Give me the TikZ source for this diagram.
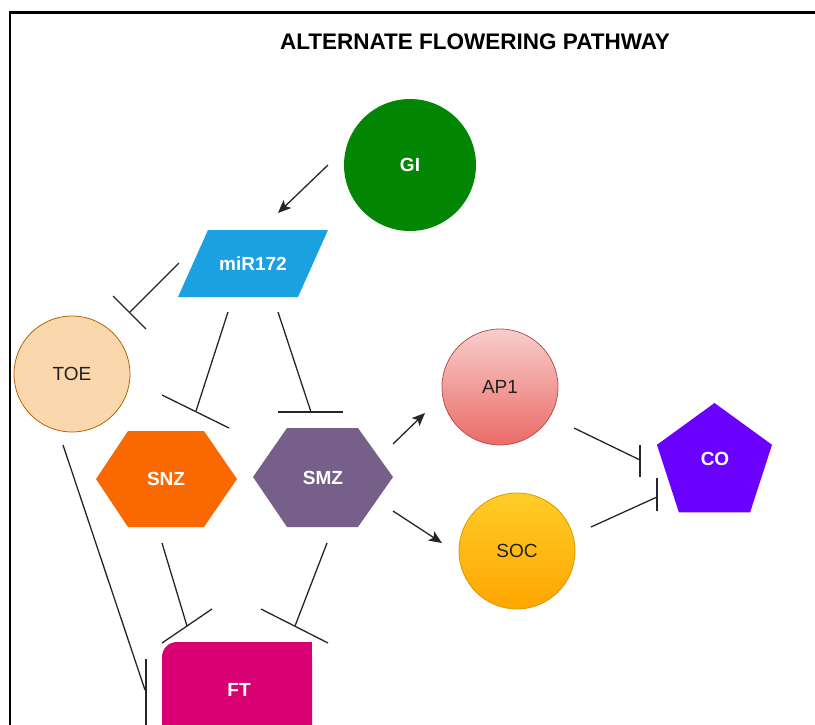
\documentclass[tikz,border=0pt]{standalone}
\usepackage{fontspec}
\setmainfont{Liberation Sans}
\usetikzlibrary{arrows.meta,shapes.geometric}
\definecolor{gicol}{HTML}{038603}
\definecolor{mircol}{HTML}{1BA1E2}
\definecolor{toefill}{HTML}{FAD7AC}
\definecolor{toedraw}{HTML}{B46504}
\definecolor{snzcol}{HTML}{FA6800}
\definecolor{smzcol}{HTML}{76608A}
\definecolor{aptop}{HTML}{F8CECC}
\definecolor{apbot}{HTML}{EA6B66}
\definecolor{apdraw}{HTML}{B85450}
\definecolor{soctop}{HTML}{FFCD28}
\definecolor{socbot}{HTML}{FFA500}
\definecolor{socdraw}{HTML}{D79B00}
\definecolor{cocol}{HTML}{6A00FF}
\definecolor{ftcol}{HTML}{D80073}
\definecolor{txtdark}{HTML}{222222}
\begin{document}
\begin{tikzpicture}[x=1pt,y=-1pt,
  lbl/.style={font=\fontsize{19}{19}\selectfont, text=txtdark, inner sep=0pt},
  wlbl/.style={font=\fontsize{19}{19}\selectfont\bfseries, text=white, inner sep=0pt},
  circ/.style={circle, inner sep=0pt, minimum size=#1, line width=0.8pt},
  conn/.style={line width=1.3pt, draw=black!85},
  act/.style={conn, -{Stealth[length=13pt,width=11pt,inset=3pt]}},
  barline/.style={line width=1.3pt, draw=black!85}]
\useasboundingbox (0,0) rectangle (815,724);
\clip (0,0) rectangle (815,724);

% frame
\draw[line width=2.2pt] (10,760) -- (10,12.5) -- (840,12.5);

% title
\node[font=\fontsize{22.5}{24}\selectfont\bfseries, anchor=base, inner sep=0pt] (title) at (475,49) {ALTERNATE FLOWERING PATHWAY};

% GI
\node[circ=132pt, fill=gicol, wlbl] (GI) at (410,165) {GI};

% miR172
\fill[mircol] (208,230) -- (328,230) -- (298,297) -- (178,297) -- cycle;
\node[wlbl] (MIR) at (253,264) {miR172};

% TOE
\node[circ=116pt, fill=toefill, draw=toedraw, lbl] (TOE) at (72,374) {TOE};

% SNZ
\fill[snzcol] (96,479) -- (128,431) -- (204,431) -- (237,479) -- (204,527) -- (128,527) -- cycle;
\node[wlbl] (SNZ) at (166,479) {SNZ};

% SMZ
\fill[smzcol] (253,477) -- (287,428) -- (358,428) -- (393,477) -- (358,527) -- (287,527) -- cycle;
\node[wlbl] (SMZ) at (323,478) {SMZ};

% AP1
\node[circ=116pt, top color=aptop, bottom color=apbot, draw=apdraw, lbl] (AP1) at (500,387) {AP1};

% SOC
\node[circ=116pt, top color=soctop, bottom color=socbot, draw=socdraw, lbl] (SOC) at (517,551) {SOC};

% CO
\node[regular polygon, regular polygon sides=5, minimum size=121pt, inner sep=0pt, fill=cocol] (CO) at (714.5,463.5) {};
\node[wlbl] (COlbl) at (715,459) {CO};

% FT
\fill[ftcol, rounded corners=15pt] (162,642) rectangle (312,770);
\fill[ftcol] (280,642) rectangle (312,700);
\node[wlbl] (FT) at (239,690) {FT};

% connector end points
\coordinate (a1s) at (328,165); \coordinate (a1e) at (278,213);
\coordinate (a2s) at (393,444); \coordinate (a2e) at (425,413);
\coordinate (a3s) at (393,511); \coordinate (a3e) at (442,543);

\coordinate (i1s) at (179,263); \coordinate (i1e) at (130,312);
\coordinate (i1a) at (113,296); \coordinate (i1b) at (146,329);
\coordinate (i2s) at (228,312); \coordinate (i2e) at (196,411);
\coordinate (i2a) at (162,395); \coordinate (i2b) at (229,428);
\coordinate (i3s) at (278,312); \coordinate (i3e) at (311,412);
\coordinate (i3a) at (278,412); \coordinate (i3b) at (343,412);
\coordinate (i4s) at (574,428); \coordinate (i4e) at (640,460);
\coordinate (i4a) at (640,445); \coordinate (i4b) at (640,477);
\coordinate (i5s) at (591,527); \coordinate (i5e) at (657,497);
\coordinate (i5a) at (657,478); \coordinate (i5b) at (657,511);
\coordinate (i6s) at (162,543); \coordinate (i6e) at (187,626);
\coordinate (i6a) at (162,643); \coordinate (i6b) at (212,609);
\coordinate (i7s) at (327,543); \coordinate (i7e) at (295,626);
\coordinate (i7a) at (261,609); \coordinate (i7b) at (328,643);
\coordinate (i8s) at (63,445); \coordinate (i8e) at (145,690);
\coordinate (i8a) at (146,659); \coordinate (i8b) at (146,760);

% activations
\draw[act] (a1s) -- (a1e);
\draw[act] (a2s) -- (a2e);
\draw[act] (a3s) -- (a3e);

% inhibitions
\foreach \i in {1,...,8} {
  \draw[conn] (i\i s) -- (i\i e);
  \draw[barline] (i\i a) -- (i\i b);
}
\end{tikzpicture}
\end{document}
